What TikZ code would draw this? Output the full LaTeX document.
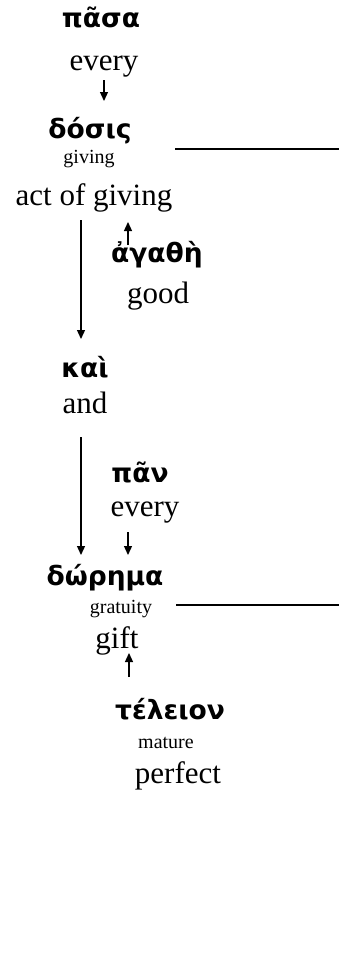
\documentclass[tikz,border=0pt]{standalone}
\usepackage{fontspec}
\setmainfont{Liberation Serif}
\newfontfamily\greekfont{DejaVu Sans}
\usepackage{tikz}
\usetikzlibrary{arrows.meta}

\tikzset{
  grk/.style={font=\greekfont\bfseries\fontsize{26.5}{26.5}\selectfont, inner sep=0pt, anchor=base},
  eng/.style={font=\fontsize{31}{31}\selectfont, inner sep=0pt, anchor=base},
  gloss/.style={font=\fontsize{20}{20}\selectfont, inner sep=0pt, anchor=base},
  arr/.style={line width=1.3pt, -{Triangle[length=9pt,width=8pt]}},
  rule/.style={line width=1.6pt}
}

\begin{document}
\begin{tikzpicture}[x=1pt, y=-1pt]
\useasboundingbox (0,0) rectangle (339,980);

% words of the line, greek over english
\node [grk]   (pasa)    at (101,27)  {πᾶσα};
\node [eng]   (every)   at (104,70)  {every};
\node [grk]   (dosis)   at (90,138)  {δόσις};
\node [gloss] (giving)  at (89,163)  {giving};
\node [eng]   (act)     at (94,205)  {act of giving};
\node [grk]   (agathe)  at (157,262) {ἀγαθὴ};
\node [eng]   (good)    at (158,303) {good};
\node [grk]   (kai)     at (85,377)  {καὶ};
\node [eng]   (and)     at (85,413)  {and};
\node [grk]   (pan)     at (140,482) {πᾶν};
\node [eng]   (every2)  at (145,516) {every};
\node [grk]   (dorema)  at (105,585) {δώρημα};
\node [gloss] (gratuity) at (121,613) {gratuity};
\node [eng]   (gift)    at (117,648) {gift};
\node [grk]   (teleion) at (170,719) {τέλειον};
\node [gloss] (mature)  at (166,748) {mature};
\node [eng]   (perfect) at (178,783) {perfect};

% arrow ends
\coordinate (e1) at (104,80);  \coordinate (d1) at (104,101);
\coordinate (a1) at (81,220);  \coordinate (k1) at (81,339);
\coordinate (g1) at (128,245); \coordinate (t1) at (128,222);
\coordinate (a2) at (81,437);  \coordinate (k2) at (81,555);
\coordinate (e2) at (128,532); \coordinate (d2) at (128,555);
\coordinate (p1) at (129,677); \coordinate (f1) at (129,653);

\draw [arr] (e1) -- (d1);
\draw [arr] (a1) -- (k1);
\draw [arr] (g1) -- (t1);
\draw [arr] (a2) -- (k2);
\draw [arr] (e2) -- (d2);
\draw [arr] (p1) -- (f1);

% rules to the right
\coordinate (r1) at (175,149); \coordinate (r2) at (339,149);
\coordinate (r3) at (176,605); \coordinate (r4) at (339,605);
\draw [rule] (r1) -- (r2);
\draw [rule] (r3) -- (r4);

\end{tikzpicture}
\end{document}
